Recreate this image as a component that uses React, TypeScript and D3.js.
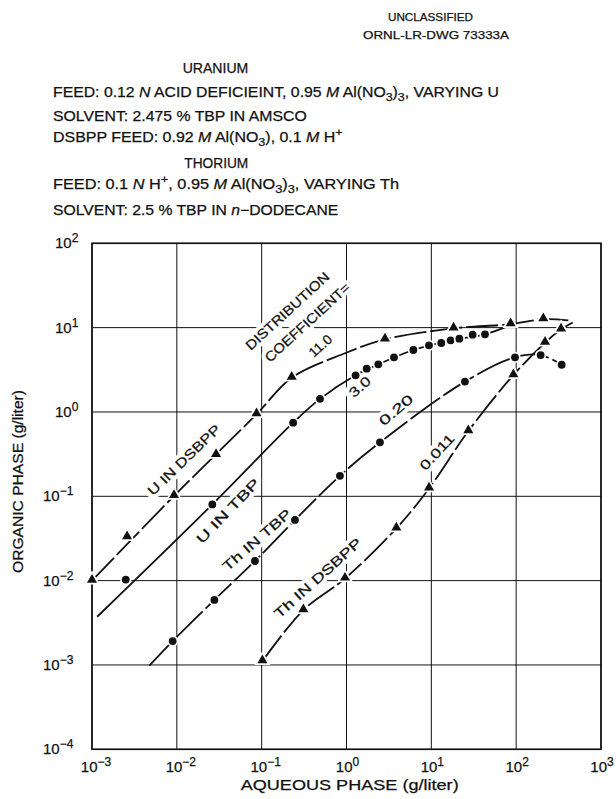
import React from 'react';
import * as d3 from 'd3';

const W = 616;
const H = 799;
const FONT = '"Liberation Sans", Arial, Helvetica, sans-serif';

// Decade exponents for both log axes
const xTickExps = [-3, -2, -1, 0, 1, 2, 3];
const yTickExps = [-4, -3, -2, -1, 0, 1, 2];

// Measured points: [aqueous g/liter, organic g/liter]
const uDsbppPoints: [number, number][] = [
  [0.001, 0.01], [0.00259, 0.0329], [0.00927, 0.101], [0.029, 0.309],
  [0.087, 0.94], [0.226, 2.55], [2.84, 7.27], [18.3, 9.8], [86, 11.0], [209, 12.6],
];
const uTbpPoints: [number, number][] = [
  [0.0025, 0.0103], [0.0262, 0.08], [0.235, 0.746], [0.487, 1.43], [1.28, 2.72],
  [1.73, 3.26], [2.37, 3.67], [3.63, 4.45], [6.14, 5.43], [9.38, 6.17], [13.1, 6.57],
  [16.9, 7.08], [21.4, 7.39], [30.7, 8.25], [42.9, 8.33],
];
const thTbpPoints: [number, number][] = [
  [0.00893, 0.00192], [0.0277, 0.0059], [0.0834, 0.0171], [0.247, 0.0524],
  [0.837, 0.175], [2.48, 0.436], [24.9, 2.29], [96.9, 4.45], [194.5, 4.73], [344, 3.63],
];
const thDsbppPoints: [number, number][] = [
  [0.102, 0.00111], [0.31, 0.00448], [0.96, 0.0106], [3.87, 0.0417], [9.4, 0.124],
  [27.3, 0.594], [92.7, 2.74], [219, 6.62], [338, 9.55],
];

// Smoothed curves drawn through the data
const uDsbppCurve: [number, number][] = [
  [0.001, 0.01], [0.00927, 0.101], [0.087, 0.94], [0.226, 2.55], [0.96, 4.97],
  [2.84, 7.27], [18.3, 9.8], [86, 11.0], [209, 12.6], [412, 12.2],
];
const uTbpCurve: [number, number][] = [
  [0.00115, 0.00373], [0.0262, 0.08], [0.235, 0.746], [0.487, 1.43], [1.28, 2.72],
  [2.37, 3.67], [6.14, 5.43], [16.9, 7.08], [42.9, 8.33], [80, 10.4],
];
const thTbpCurve: [number, number][] = [
  [0.00474, 0.00098], [0.00893, 0.00192], [0.0277, 0.0059], [0.0834, 0.0171],
  [0.247, 0.0524], [0.837, 0.175], [2.48, 0.436], [24.9, 2.29], [96.9, 4.45],
  [194.5, 4.73], [344, 3.63],
];
const thDsbppCurve: [number, number][] = [
  [0.102, 0.00111], [0.31, 0.00448], [0.96, 0.0106], [3.87, 0.0417], [9.4, 0.124],
  [27.3, 0.594], [92.7, 2.74], [219, 6.62], [338, 9.55], [464, 11.5],
];

// Curve annotations: text, anchor [aqueous, organic], angle, length
const curveLabels: { text: string; at: [number, number]; angle: number; len: number }[] = [
  { text: 'DISTRIBUTION', at: [0.2018, 15.7], angle: -42.5, len: 108 },
  { text: 'COEFFICIENT=', at: [0.347, 11.5], angle: -42.5, len: 110 },
  { text: '11.0', at: [0.494, 6.05], angle: -42, len: 26 },
  { text: '3.0', at: [1.44, 1.98], angle: -42, len: 24 },
  { text: '0.20', at: [3.84, 1.05], angle: -40, len: 40 },
  { text: '0.011', at: [11.7, 0.335], angle: -47, len: 44 },
  { text: 'U IN DSBPP', at: [0.0122, 0.269], angle: -44, len: 95 },
  { text: 'U IN TBP', at: [0.0401, 0.0668], angle: -46, len: 84 },
  { text: 'Th IN TBP', at: [0.0881, 0.0303], angle: -41, len: 86 },
  { text: 'Th IN DSBPP', at: [0.461, 0.0107], angle: -42, len: 112 },
];

const M = { left: 92, right: 601, top: 243.3, bottom: 749.3 };

const Sup = ({ children }: { children: React.ReactNode }) => (
  <tspan dy={-6} fontSize={12}>{children}</tspan>
);

export default function App() {
  const x = d3.scaleLog().domain([1e-3, 1e3]).range([M.left, M.right]);
  const y = d3.scaleLog().domain([1e-4, 1e2]).range([M.bottom, M.top]);

  const line = d3
    .line<[number, number]>()
    .x((d) => x(d[0]))
    .y((d) => y(d[1]))
    .curve(d3.curveCatmullRom.alpha(0.5));

  const tri = d3.symbol().type(d3.symbolTriangle).size(44)();

  const exp = (e: number) => (e < 0 ? '\u2212' + Math.abs(e) : String(e));

  const curves: { d: [number, number][]; dash?: string }[] = [
    { d: uDsbppCurve, dash: '32 4' },
    { d: uTbpCurve },
    { d: thTbpCurve, dash: '36 4' },
    { d: thDsbppCurve, dash: '32 4' },
  ];

  const tris = [...uDsbppPoints, ...thDsbppPoints];
  const dots = [...uTbpPoints, ...thTbpPoints];

  const ink = { fill: '#111', stroke: '#111', strokeWidth: 0.25 };

  return (
    <svg
      width={W}
      height={H}
      style={{ position: 'absolute', left: 0, top: 0, background: '#fff' }}
      fontFamily={FONT}
    >
      <rect width={W} height={H} fill="#fff" />

      {/* Heading block */}
      <g {...ink}>
        <text x={388} y={20.7} fontSize={11.5} textLength={85} lengthAdjust="spacingAndGlyphs">UNCLASSIFIED</text>
        <text x={363} y={39.3} fontSize={11.5} textLength={146} lengthAdjust="spacingAndGlyphs">ORNL-LR-DWG 73333A</text>
        <text x={182.7} y={72.7} fontSize={14} textLength={65.6} lengthAdjust="spacingAndGlyphs">URANIUM</text>
        <text x={53} y={96.7} fontSize={14} textLength={446} lengthAdjust="spacingAndGlyphs">
          FEED: 0.12 <tspan fontStyle="italic">N</tspan> ACID DEFICIEINT, 0.95 <tspan fontStyle="italic">M</tspan> Al(NO
          <tspan dy={4} fontSize={11}>3</tspan>
          <tspan dy={-4}>)</tspan>
          <tspan dy={4} fontSize={11}>3</tspan>
          <tspan dy={-4}>, VARYING U</tspan>
        </text>
        <text x={53} y={120.7} fontSize={14} textLength={253.7} lengthAdjust="spacingAndGlyphs">SOLVENT: 2.475 % TBP IN AMSCO</text>
        <text x={53} y={142} fontSize={14} textLength={289.7} lengthAdjust="spacingAndGlyphs">
          DSBPP FEED: 0.92 <tspan fontStyle="italic">M</tspan> Al(NO
          <tspan dy={4} fontSize={11}>3</tspan>
          <tspan dy={-4}>), 0.1 </tspan>
          <tspan fontStyle="italic">M</tspan> H
          <tspan dy={-6} fontSize={11}>+</tspan>
        </text>
        <text x={184.3} y={167.7} fontSize={14} textLength={64} lengthAdjust="spacingAndGlyphs">THORIUM</text>
        <text x={53} y={189.3} fontSize={14} textLength={346} lengthAdjust="spacingAndGlyphs">
          FEED: 0.1 <tspan fontStyle="italic">N</tspan> H
          <tspan dy={-6} fontSize={11}>+</tspan>
          <tspan dy={6}>, 0.95 </tspan>
          <tspan fontStyle="italic">M</tspan> Al(NO
          <tspan dy={4} fontSize={11}>3</tspan>
          <tspan dy={-4}>)</tspan>
          <tspan dy={4} fontSize={11}>3</tspan>
          <tspan dy={-4}>, VARYING Th</tspan>
        </text>
        <text x={53} y={215} fontSize={14} textLength={285.3} lengthAdjust="spacingAndGlyphs">
          SOLVENT: 2.5 % TBP IN <tspan fontStyle="italic">n</tspan>{'\u2212'}DODECANE
        </text>
      </g>

      {/* Grid */}
      <g stroke="#111" strokeWidth={1}>
        {xTickExps.map((e) => (
          <line key={'gx' + e} x1={x(10 ** e)} x2={x(10 ** e)} y1={M.top} y2={M.bottom} />
        ))}
        {yTickExps.map((e) => (
          <line key={'gy' + e} x1={M.left} x2={M.right} y1={y(10 ** e)} y2={y(10 ** e)} />
        ))}
      </g>
      <rect
        x={M.left}
        y={M.top}
        width={M.right - M.left}
        height={M.bottom - M.top}
        fill="none"
        stroke="#111"
        strokeWidth={1.6}
      />

      {/* Curve annotations with a white knock-out */}
      <g fontSize={13.5}>
        {curveLabels.map((l) => {
          const cx = x(l.at[0]);
          const cy = y(l.at[1]);
          const common = {
            x: cx,
            y: cy,
            transform: `rotate(${l.angle} ${cx} ${cy})`,
            textAnchor: 'middle' as const,
            dominantBaseline: 'central' as const,
            textLength: l.len,
            lengthAdjust: 'spacingAndGlyphs' as const,
          };
          return (
            <g key={l.text}>
              <text {...common} fill="#fff" stroke="#fff" strokeWidth={8} strokeLinejoin="round">
                {l.text}
              </text>
              <text {...common} {...ink}>
                {l.text}
              </text>
            </g>
          );
        })}
      </g>

      {/* Fitted curves */}
      <g fill="none" stroke="#111" strokeWidth={1.8}>
        {curves.map((c, i) => (
          <path key={i} d={line(c.d) || ''} strokeDasharray={c.dash} />
        ))}
      </g>

      {/* Markers, haloed so the curves break around them */}
      <g fill="#111" stroke="#fff" strokeWidth={3.5} paintOrder="stroke">
        {tris.map((p, i) => (
          <path key={'t' + i} d={tri || ''} transform={`translate(${x(p[0])},${y(p[1]) - 0.8})`} />
        ))}
        {dots.map((p, i) => (
          <circle key={'c' + i} cx={x(p[0])} cy={y(p[1])} r={3.9} />
        ))}
      </g>

      {/* Tick labels */}
      <g {...ink} fontSize={15}>
        {xTickExps.map((e) => (
          <text key={'tx' + e} x={x(10 ** e) + (e < 0 ? 4 : 1)} y={772} textAnchor="middle">
            10<Sup>{exp(e)}</Sup>
          </text>
        ))}
        {yTickExps.map((e) => (
          <text key={'ty' + e} x={e < 0 ? 43 : 55} y={y(10 ** e) + 5}>
            10<Sup>{exp(e)}</Sup>
          </text>
        ))}
      </g>

      {/* Axis titles */}
      <text x={240.7} y={790} fontSize={14} {...ink} textLength={218} lengthAdjust="spacingAndGlyphs">
        AQUEOUS PHASE (g/liter)
      </text>
      <text
        transform="rotate(-90)"
        x={-573}
        y={23}
        fontSize={14}
        {...ink}
        textLength={183}
        lengthAdjust="spacingAndGlyphs"
      >
        ORGANIC PHASE (g/liter)
      </text>
    </svg>
  );
}
